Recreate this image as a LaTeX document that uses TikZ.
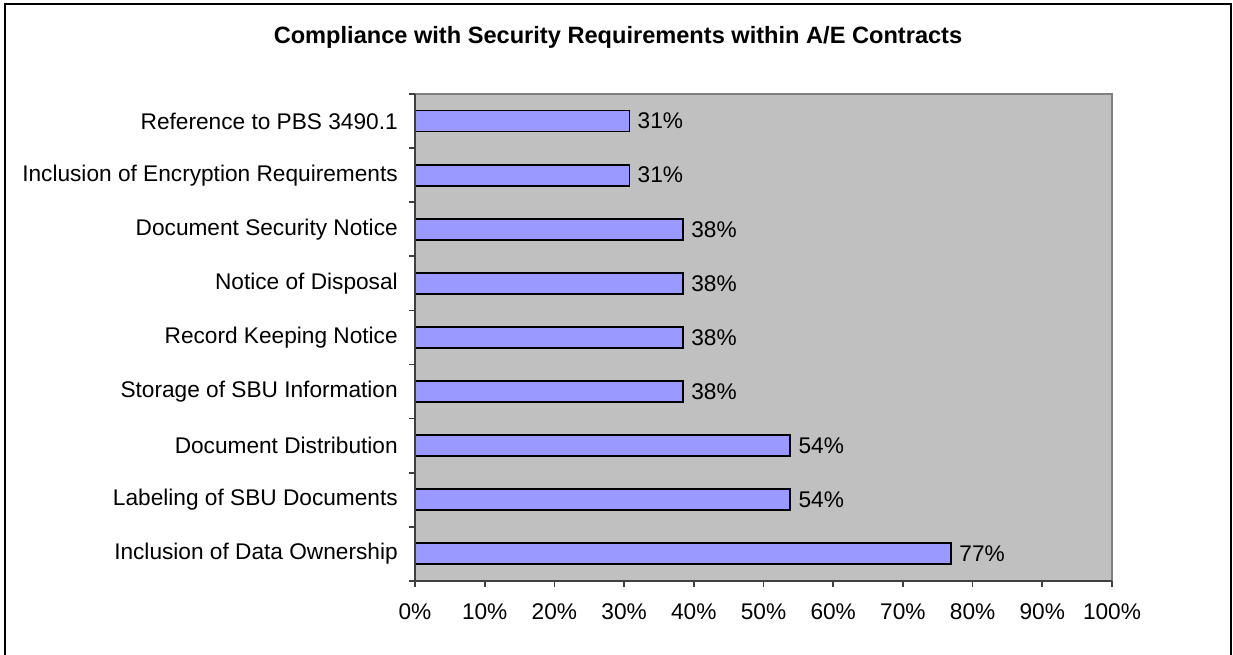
\documentclass[tikz,border=0pt]{standalone}
\usepackage{fontspec}
\setmainfont{Liberation Sans}
\usepackage{tikz}
\usetikzlibrary{positioning}
\definecolor{barblue}{RGB}{153,153,255}
\definecolor{plotgray}{RGB}{192,192,192}
\definecolor{framegray}{RGB}{128,128,128}
\definecolor{axisgray}{RGB}{64,64,64}

\begin{document}
\begin{tikzpicture}[x=0.75pt,y=-0.75pt,
	catlabel/.style={anchor=east,inner sep=0pt,font=\fontsize{17}{19}\selectfont},
	pctlabel/.style={anchor=west,inner sep=0pt,font=\fontsize{17}{19}\selectfont},
	barbox/.style={fill=barblue,draw=black,line width=1.3pt}]
					\useasboundingbox (0,0) rectangle (1233,655);
					\draw [line width=1.3pt] (5,655) -- (5,4) -- (1231,4) -- (1231,655);

					\node [font=\fontsize{17.7}{20}\selectfont\bfseries] (title) at (618,37) {Compliance with Security Requirements within A/E Contracts};

					\fill [plotgray] (415,94) rectangle (1112,581);
					\draw [framegray,line width=1.5pt] (415,94) -- (1112,94) -- (1112,581);

					\foreach \val/\pct/\txt/\name [count=\k from 0] in
						{30.77/31/Reference to PBS 3490.1/pbs,
						 30.77/31/Inclusion of Encryption Requirements/encr,
						 38.46/38/Document Security Notice/secnot,
						 38.46/38/Notice of Disposal/disp,
						 38.46/38/Record Keeping Notice/rec,
						 38.46/38/Storage of SBU Information/stor,
						 53.85/54/Document Distribution/dist,
						 53.85/54/Labeling of SBU Documents/label,
						 76.92/77/Inclusion of Data Ownership/own}
					{
						\draw [barbox] (415,{121.05+54.1*\k-10.5}) rectangle ({415+6.97*\val},{121.05+54.1*\k+10.5});
						\node [catlabel] (\name) at (398,{121.05+54.1*\k}) {\txt};
						\node [pctlabel] (\name-pct) at ({423+6.97*\val},{121.05+54.1*\k}) {\pct\%};
					}

					\draw [axisgray,line width=1.3pt] (415,94) -- (415,581) -- (1112,581);
					\foreach \k in {0,...,9}
						\draw [axisgray,line width=1.3pt] (409,{94+54.1*\k}) -- (415,{94+54.1*\k});
					\draw [axisgray,line width=1.3pt] (409,581) -- (415,581);
					\foreach \i in {0,...,10}
					{
						\draw [axisgray,line width=1.3pt] ({415+69.7*\i},581) -- ({415+69.7*\i},587);
						\node [font=\fontsize{17}{19}\selectfont,inner sep=0pt] (tick\i) at ({415+69.7*\i},612) {\the\numexpr\i*10\relax\%};
					}
				\end{tikzpicture}
\end{document}
